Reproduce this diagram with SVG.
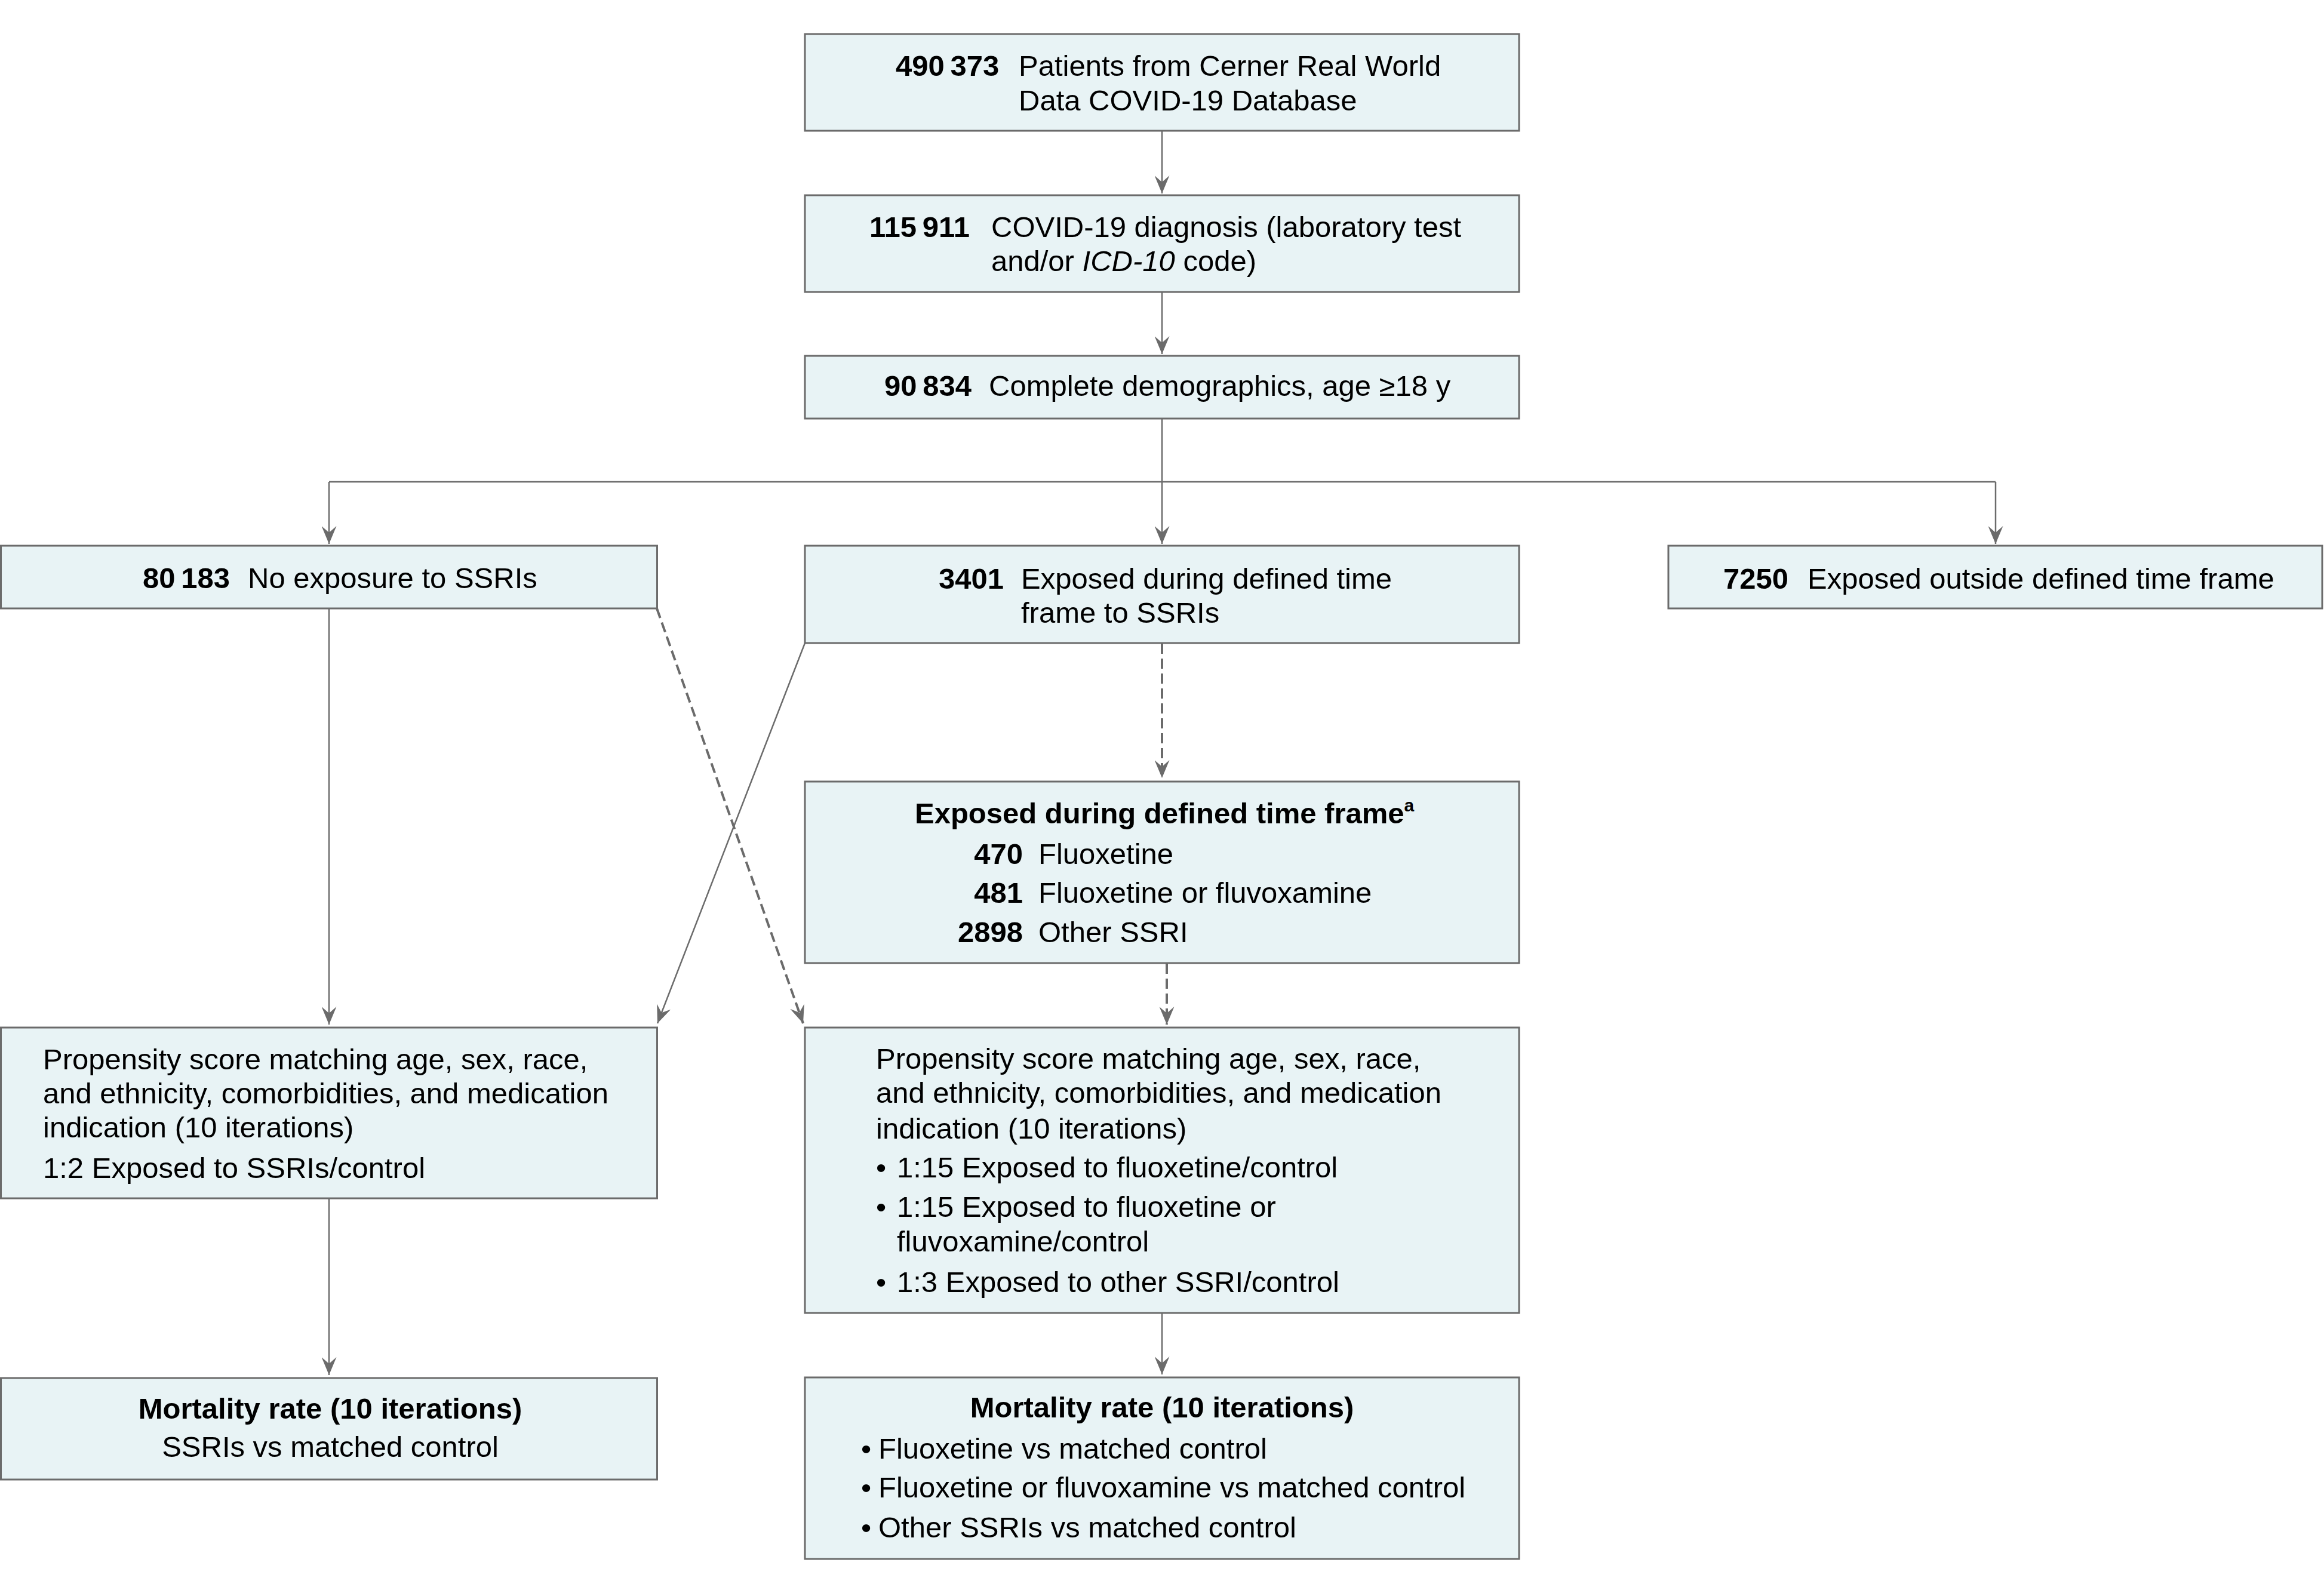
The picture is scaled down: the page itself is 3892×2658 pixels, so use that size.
<svg xmlns="http://www.w3.org/2000/svg" width="3892" height="2658" viewBox="0 0 3892 2658">
<style>
.box{fill:#e8f3f5;stroke:#6b6b6b;stroke-width:3}
text{font-family:"Liberation Sans",Arial,sans-serif;font-size:49px;fill:#000}
.b{font-weight:bold}
.c{text-anchor:middle}
.e{text-anchor:end}
.ln{fill:none;stroke:#6b6b6b;stroke-width:2.5}
.dash{stroke-width:4;stroke-dasharray:17 8}
</style>
<defs>
<marker id="ah" viewBox="0 0 30 25" refX="30" refY="12.5" markerWidth="30" markerHeight="25" markerUnits="userSpaceOnUse" orient="auto">
<path d="M0,0 L30,12.5 L0,25 L11,12.5 Z" fill="#6b6b6b"/>
</marker>
</defs>
<rect width="3892" height="2658" fill="#fff"/>
<g id="connectors">
<line class="ln" x1="1946" y1="219" x2="1946" y2="324" marker-end="url(#ah)"/>
<line class="ln" x1="1946" y1="489" x2="1946" y2="593" marker-end="url(#ah)"/>
<line class="ln" x1="1946" y1="701" x2="1946" y2="807"/>
<line class="ln" x1="551" y1="807" x2="3342" y2="807"/>
<line class="ln" x1="551" y1="807" x2="551" y2="911" marker-end="url(#ah)"/>
<line class="ln" x1="1946" y1="807" x2="1946" y2="911" marker-end="url(#ah)"/>
<line class="ln" x1="3342" y1="807" x2="3342" y2="911" marker-end="url(#ah)"/>
<line class="ln dash" x1="1946" y1="1078" x2="1946" y2="1303" marker-end="url(#ah)"/>
<line class="ln" x1="551" y1="1019" x2="551" y2="1716" marker-end="url(#ah)"/>
<line class="ln" x1="1348" y1="1077" x2="1101" y2="1714" marker-end="url(#ah)"/>
<line class="ln dash" x1="1100" y1="1019" x2="1345" y2="1714" marker-end="url(#ah)"/>
<line class="ln dash" x1="1954" y1="1614" x2="1954" y2="1716" marker-end="url(#ah)"/>
<line class="ln" x1="551" y1="2007" x2="551" y2="2303" marker-end="url(#ah)"/>
<line class="ln" x1="1946" y1="2199" x2="1946" y2="2302" marker-end="url(#ah)"/>
</g>
<g id="n1">
<rect class="box" x="1348" y="57" width="1196" height="162"/>
<text x="1500" y="127" class="b">490&#8201;373</text>
<text x="1706" y="127">Patients from Cerner Real World</text>
<text x="1706" y="185">Data COVID-19 Database</text>
</g>
<g id="n2">
<rect class="box" x="1348" y="327" width="1196" height="162"/>
<text x="1456" y="397" class="b">115&#8201;911</text>
<text x="1660" y="397">COVID-19 diagnosis (laboratory test</text>
<text x="1660" y="454">and/or <tspan font-style="italic">ICD-10</tspan> code)</text>
</g>
<g id="n3">
<rect class="box" x="1348" y="596" width="1196" height="105"/>
<text x="1481" y="663" class="b">90&#8201;834</text>
<text x="1656" y="663">Complete demographics, age ≥18 y</text>
</g>
<g id="n4">
<rect class="box" x="1.5" y="914" width="1099" height="105"/>
<text x="239" y="985" class="b">80&#8201;183</text>
<text x="415" y="985">No exposure to SSRIs</text>
</g>
<g id="n5">
<rect class="box" x="1348" y="914" width="1196" height="163"/>
<text x="1572" y="986" class="b">3401</text>
<text x="1710" y="986">Exposed during defined time</text>
<text x="1710" y="1043">frame to SSRIs</text>
</g>
<g id="n6">
<rect class="box" x="2794" y="914" width="1095" height="105"/>
<text x="2886" y="986" class="b">7250</text>
<text x="3027" y="986">Exposed outside defined time frame</text>
</g>
<g id="n7">
<rect class="box" x="1348" y="1309" width="1196" height="304"/>
<text x="1532" y="1379" class="b">Exposed during defined time frame<tspan font-size="30" dy="-20">a</tspan></text>
<text x="1713" y="1447" class="b e">470</text>
<text x="1739" y="1447">Fluoxetine</text>
<text x="1713" y="1512" class="b e">481</text>
<text x="1739" y="1512">Fluoxetine or fluvoxamine</text>
<text x="1713" y="1578" class="b e">2898</text>
<text x="1739" y="1578">Other SSRI</text>
</g>
<g id="n8">
<rect class="box" x="1.5" y="1721" width="1099" height="286"/>
<text x="72" y="1791">Propensity score matching age, sex, race,</text>
<text x="72" y="1848">and ethnicity, comorbidities, and medication</text>
<text x="72" y="1905">indication (10 iterations)</text>
<text x="72" y="1973">1:2 Exposed to SSRIs/control</text>
</g>
<g id="n9">
<rect class="box" x="1348" y="1721" width="1196" height="478"/>
<text x="1467" y="1790">Propensity score matching age, sex, race,</text>
<text x="1467" y="1847">and ethnicity, comorbidities, and medication</text>
<text x="1467" y="1907">indication (10 iterations)</text>
<text x="1467" y="1972">•</text>
<text x="1502" y="1972">1:15 Exposed to fluoxetine/control</text>
<text x="1467" y="2038">•</text>
<text x="1502" y="2038">1:15 Exposed to fluoxetine or</text>
<text x="1502" y="2096">fluvoxamine/control</text>
<text x="1467" y="2164">•</text>
<text x="1502" y="2164">1:3 Exposed to other SSRI/control</text>
</g>
<g id="n10">
<rect class="box" x="1.5" y="2308" width="1099" height="170"/>
<text x="553" y="2376" class="b c">Mortality rate (10 iterations)</text>
<text x="553" y="2440" class="c">SSRIs vs matched control</text>
</g>
<g id="n11">
<rect class="box" x="1348" y="2307" width="1196" height="304"/>
<text x="1946" y="2374" class="b c">Mortality rate (10 iterations)</text>
<text x="1442" y="2443">•</text>
<text x="1471" y="2443">Fluoxetine vs matched control</text>
<text x="1442" y="2508">•</text>
<text x="1471" y="2508">Fluoxetine or fluvoxamine vs matched control</text>
<text x="1442" y="2575">•</text>
<text x="1471" y="2575">Other SSRIs vs matched control</text>
</g>
</svg>
